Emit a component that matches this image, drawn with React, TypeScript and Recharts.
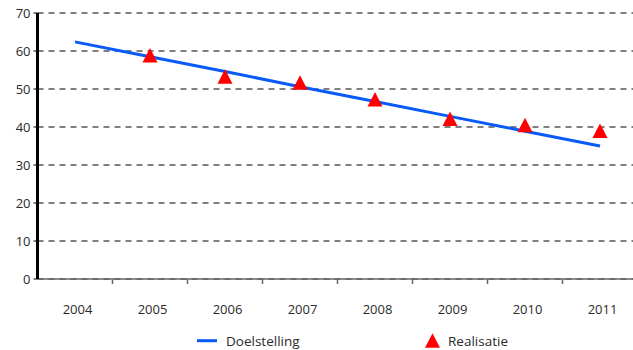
import { ComposedChart, Line, XAxis, YAxis, CartesianGrid, Legend } from 'recharts'

const years = ['2004', '2005', '2006', '2007', '2008', '2009', '2010', '2011']
const doelstelling = [62.4, 58.5, 54.6, 50.6, 46.7, 42.8, 38.9, 35.0]
const realisatie = [null, 58.9, 53.3, 51.7, 47.3, 42.2, 40.5, 39.0]
const yTicks = [0, 10, 20, 30, 40, 50, 60, 70]

const BLUE = '#0a5af8'
const RED = '#ff0000'
const FONT = '"Open Sans", "DejaVu Sans", sans-serif'
const TEXT = '#2a2a2a'

const PLOT_W = 600
const HALF_BAND = PLOT_W / years.length / 2
const X_TICK_MARGIN = 26

const data = years.map((year, i) => ({
    year,
    doelstelling: doelstelling[i],
    realisatie: realisatie[i],
}))

function YearTick(props: any) {
    const { x, y, payload } = props
    const axisY = y - X_TICK_MARGIN
    return (
        <g>
            <line
                x1={x + HALF_BAND} x2={x + HALF_BAND}
                y1={axisY} y2={axisY + 5}
                stroke="#666" strokeWidth={1.5}
            />
            <text x={x + 2.5} y={y} dy="0.71em" textAnchor="middle" fontSize={13} fill={TEXT} fontFamily={FONT}>
                {payload.value}
            </text>
        </g>
    )
}

function Triangle(props: any) {
    const { cx, cy, index } = props
    if (cx == null || cy == null) return <g key={`t-${index}`} />
    const w = 15, h = 14.5
    return (
        <polygon
            key={`t-${index}`}
            points={`${cx},${cy - h / 2} ${cx + w / 2},${cy + h / 2} ${cx - w / 2},${cy + h / 2}`}
            fill={RED}
        />
    )
}

function LegendContent() {
    return (
        <svg width={633} height={26} style={{ display: 'block' }}>
            <line x1={197} x2={217} y1={16.7} y2={16.7} stroke={BLUE} strokeWidth={3} />
            <text x={226} y={22} fontSize={13.5} fill={TEXT} fontFamily={FONT}>Doelstelling</text>
            <polygon points="432.5,9.3 440,23.7 425,23.7" fill={RED} />
            <text x={448} y={22} fontSize={13.5} fill={TEXT} fontFamily={FONT}>Realisatie</text>
        </svg>
    )
}

export default function App() {
    return (
        <div style={{ position: 'absolute', left: 0, top: 0, width: 633, height: 350, overflow: 'hidden', background: '#fff' }}>
            <ComposedChart
                width={640} height={350}
                data={data}
                margin={{ top: 13, right: 2.5, left: 0, bottom: 0 }}
            >
                <CartesianGrid vertical={false} stroke="#000" strokeDasharray="6 5" />
                <XAxis
                    dataKey="year"
                    padding={{ left: HALF_BAND, right: HALF_BAND }}
                    interval={0}
                    tickSize={0}
                    tickLine={false}
                    tickMargin={X_TICK_MARGIN}
                    axisLine={{ stroke: '#666', strokeWidth: 1.5 }}
                    height={45}
                    tick={<YearTick />}
                />
                <YAxis
                    domain={[0, 70]}
                    ticks={yTicks}
                    width={37.5}
                    tickSize={4}
                    tickMargin={3}
                    tickLine={{ stroke: '#000' }}
                    axisLine={{ stroke: '#000', strokeWidth: 3 }}
                    tick={{ fontSize: 13, fill: TEXT, fontFamily: FONT }}
                />
                <Line
                    dataKey="doelstelling"
                    name="Doelstelling"
                    stroke={BLUE}
                    strokeWidth={3}
                    dot={false}
                    activeDot={false}
                    isAnimationActive={false}
                />
                <Line
                    dataKey="realisatie"
                    name="Realisatie"
                    stroke="none"
                    dot={Triangle}
                    activeDot={false}
                    isAnimationActive={false}
                />
                <Legend
                    verticalAlign="bottom"
                    height={26}
                    content={<LegendContent />}
                    wrapperStyle={{ left: 0, width: 633 }}
                />
            </ComposedChart>
        </div>
    )
}
